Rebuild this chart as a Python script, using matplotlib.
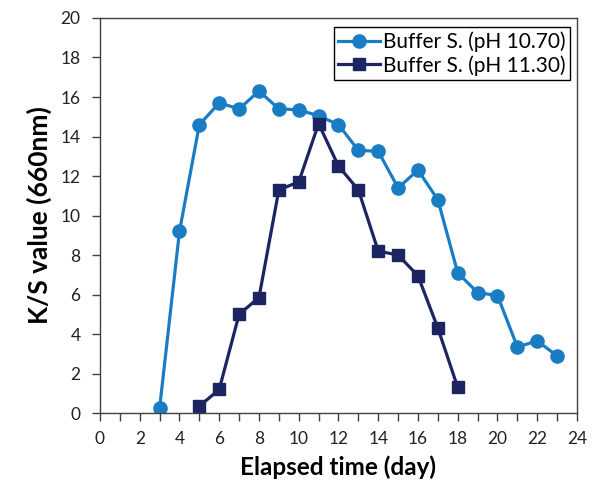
import matplotlib
matplotlib.use('Agg')
import matplotlib.pyplot as plt
from matplotlib.ticker import MultipleLocator

# Readings
days_a = [3, 4, 5, 6, 7, 8, 9, 10, 11, 12, 13, 14, 15, 16, 17, 18, 19, 20, 21, 22, 23]
ks_a = [0.25, 9.2, 14.6, 15.7, 15.4, 16.3, 15.4, 15.35, 15.05, 14.6, 13.3, 13.25,
        11.4, 12.3, 10.8, 7.1, 6.1, 5.95, 3.35, 3.65, 2.9]

days_b = [5, 6, 7, 8, 9, 10, 11, 12, 13, 14, 15, 16, 17, 18]
ks_b = [0.35, 1.2, 5.0, 5.85, 11.3, 11.7, 14.65, 12.5, 11.3, 8.2, 8.0, 6.95, 4.3, 1.3]

labels = ['Buffer S. (pH 10.70)', 'Buffer S. (pH 11.30)']
colors = ['#1a7dc4', '#1c2462']

plt.rcParams['font.family'] = ['Lato', 'DejaVu Sans']

fig = plt.figure(figsize=(5.93, 4.86), dpi=100)
ax = fig.add_axes([0.1686, 0.150, 0.8044, 0.813])

ax.plot(days_a, ks_a, color=colors[0], lw=2.3, marker='o', ms=9.5, label=labels[0])
ax.plot(days_b, ks_b, color=colors[1], lw=2.3, marker='s', ms=8, label=labels[1])

ax.set_xlim(0, 24)
ax.set_ylim(0, 20)
ax.xaxis.set_major_locator(MultipleLocator(2))
ax.xaxis.set_minor_locator(MultipleLocator(1))
ax.yaxis.set_major_locator(MultipleLocator(2))
ax.tick_params(axis='both', which='both', direction='out', length=6, width=1,
               color='#404040', labelsize=12.5, labelcolor='#222222')
ax.tick_params(axis='x', which='major', pad=7)
ax.tick_params(axis='y', which='major', pad=8)
for s in ax.spines.values():
    s.set_color('#404040')
    s.set_linewidth(1)

ax.set_xlabel('Elapsed time (day)', fontsize=17.5, fontweight='bold', labelpad=6)
ax.set_ylabel('K/S value (660nm)', fontsize=19, fontweight='bold', labelpad=6)

leg = ax.legend(loc='upper right', bbox_to_anchor=(0.985, 0.977), fontsize=15,
                fancybox=False, edgecolor='black', framealpha=1,
                handlelength=2.0, handletextpad=0.15, borderpad=0.2, labelspacing=0.15,
                borderaxespad=0)
leg.get_frame().set_linewidth(1)

fig.savefig('out.png', dpi=100)
